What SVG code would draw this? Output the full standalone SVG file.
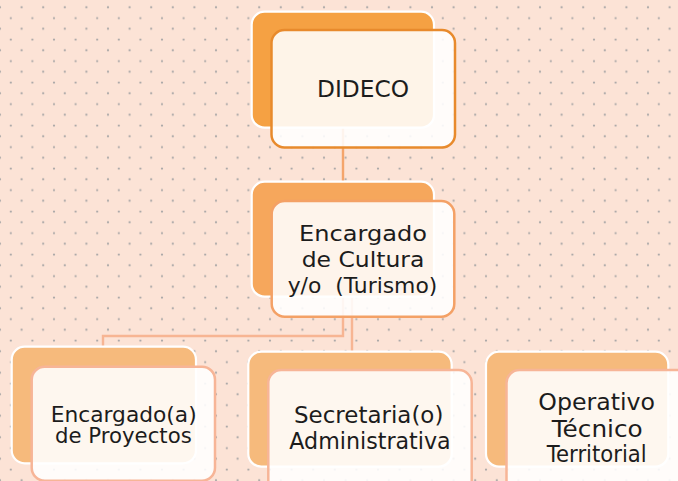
<svg xmlns="http://www.w3.org/2000/svg" width="678" height="481" viewBox="0 0 678 481">
<defs>
<pattern id="dots" patternUnits="userSpaceOnUse" width="21.6" height="21.5">
<circle cx="0" cy="7.3" r="1.1" fill="#a8a6a6"/>
<circle cx="21.6" cy="7.3" r="1.1" fill="#a8a6a6"/>
<circle cx="10.8" cy="18.1" r="1.1" fill="#a8a6a6"/>
</pattern>
<style>
.back{stroke:#ffffff;stroke-width:2.2}
.front{fill:#ffffff;fill-opacity:0.88;stroke-width:2.5}
.l0 .back{fill:#f5a143}
.l0 .front{stroke:#e88a2c}
.l1 .back{fill:#f6a75c}
.l1 .front{stroke:#f4a166}
.l2 .back{fill:#f6ba7c}
.l2 .front{stroke:#f7b597}
.conn{fill:none;stroke-width:2.4}
text{font-family:"DejaVu Sans","Liberation Sans",sans-serif;fill:#1c1c1c;text-anchor:middle}
</style>
</defs>
<rect x="0" y="0" width="678" height="481" fill="#fce3d6"/>
<rect x="0" y="0" width="678" height="481" fill="url(#dots)"/>
<g id="connectors">
<path class="conn" d="M343,127 V182" stroke="#f4a56c"/>
<path class="conn" d="M343,296 V336 H103 V348" stroke="#f7b593"/>
<path class="conn" d="M352,296 V352" stroke="#f7b593"/>
</g>
<g id="dideco" class="l0">
<rect class="back" x="251.7" y="11.7" width="182.3" height="116" rx="13"/>
<rect class="front" x="271.5" y="30" width="183.5" height="117.5" rx="13"/>
<text x="363" y="96.7" font-size="23.5" textLength="92" lengthAdjust="spacingAndGlyphs">DIDECO</text>
</g>
<g id="cultura" class="l1">
<rect class="back" x="251.7" y="181.7" width="182.3" height="115" rx="13"/>
<rect class="front" x="271.7" y="201" width="182.6" height="115.7" rx="13"/>
<text x="363" y="241" font-size="22" textLength="128" lengthAdjust="spacingAndGlyphs">Encargado</text>
<text x="363" y="266.7" font-size="22" textLength="122.6" lengthAdjust="spacingAndGlyphs">de Cultura</text>
<text x="362.5" y="292.7" font-size="22" textLength="149.7" lengthAdjust="spacingAndGlyphs" xml:space="preserve">y/o  (Turismo)</text>
</g>
<g id="proyectos" class="l2">
<rect class="back" x="11.7" y="346.7" width="184.3" height="116.6" rx="13"/>
<rect class="front" x="31.7" y="366.7" width="183.3" height="114" rx="13"/>
<text x="123.7" y="421.7" font-size="21" textLength="146" lengthAdjust="spacingAndGlyphs">Encargado(a)</text>
<text x="123.4" y="443.3" font-size="21" textLength="136.7" lengthAdjust="spacingAndGlyphs">de Proyectos</text>
</g>
<g id="secretaria" class="l2">
<rect class="back" x="248.3" y="351.7" width="203.4" height="115" rx="13"/>
<rect class="front" x="268.3" y="370" width="203.4" height="125" rx="13"/>
<text x="368.7" y="423.3" font-size="22.5" textLength="149.3" lengthAdjust="spacingAndGlyphs">Secretaria(o)</text>
<text x="370" y="449.3" font-size="22.5" textLength="161.4" lengthAdjust="spacingAndGlyphs">Administrativa</text>
</g>
<g id="operativo" class="l2">
<rect class="back" x="486" y="351.7" width="182.3" height="115" rx="13"/>
<rect class="front" x="506.5" y="370" width="183" height="125" rx="13"/>
<text x="596.7" y="410" font-size="23" textLength="116.7" lengthAdjust="spacingAndGlyphs">Operativo</text>
<text x="597.2" y="436.7" font-size="23" textLength="91" lengthAdjust="spacingAndGlyphs">Técnico</text>
<text x="596.7" y="461.7" font-size="23" textLength="100" lengthAdjust="spacingAndGlyphs">Territorial</text>
</g>
</svg>
